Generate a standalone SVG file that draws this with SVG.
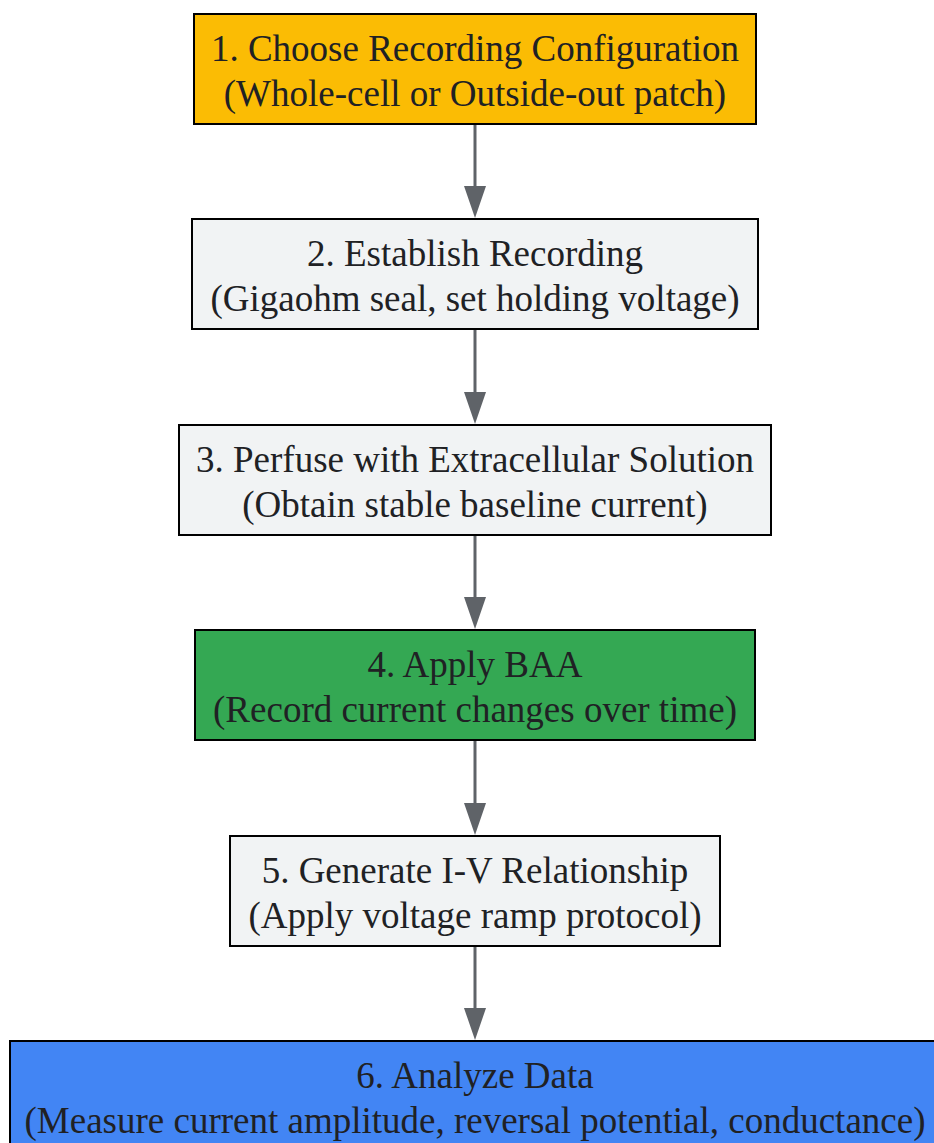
<svg xmlns="http://www.w3.org/2000/svg" width="934" height="1143" viewBox="0 0 934 1143">
<defs>
<style>
.box{stroke:#000;stroke-width:2}
.t{font-family:"Liberation Serif",serif;font-size:37px;fill:#202124;text-anchor:middle}
.e{stroke:#5F6368;stroke-width:3;fill:none}
.h{fill:#5F6368}
</style>
</defs>
<rect width="934" height="1143" fill="#fff"/>
<g id="edges">
<line class="e" x1="475" y1="124" x2="475" y2="186"/><path class="h" d="M464,186 L486,186 L475,218 Z"/>
<line class="e" x1="475" y1="329" x2="475" y2="392"/><path class="h" d="M464,392 L486,392 L475,424 Z"/>
<line class="e" x1="475" y1="535" x2="475" y2="597"/><path class="h" d="M464,597 L486,597 L475,629 Z"/>
<line class="e" x1="475" y1="740" x2="475" y2="803"/><path class="h" d="M464,803 L486,803 L475,835 Z"/>
<line class="e" x1="475" y1="946" x2="475" y2="1008"/><path class="h" d="M464,1008 L486,1008 L475,1040 Z"/>
</g>
<g id="n1"><rect class="box" x="194" y="14" width="562" height="110" fill="#FBBC04"/>
<text class="t" x="475" y="61">1. Choose Recording Configuration</text><text class="t" x="475" y="106">(Whole-cell or Outside-out patch)</text></g>
<g id="n2"><rect class="box" x="192" y="219" width="566" height="110" fill="#F1F3F4"/>
<text class="t" x="475" y="266">2. Establish Recording</text><text class="t" x="475" y="311">(Gigaohm seal, set holding voltage)</text></g>
<g id="n3"><rect class="box" x="179" y="425" width="592" height="110" fill="#F1F3F4"/>
<text class="t" x="475" y="472">3. Perfuse with Extracellular Solution</text><text class="t" x="475" y="517">(Obtain stable baseline current)</text></g>
<g id="n4"><rect class="box" x="195" y="630" width="560" height="110" fill="#34A853"/>
<text class="t" x="475" y="677">4. Apply BAA</text><text class="t" x="475" y="722">(Record current changes over time)</text></g>
<g id="n5"><rect class="box" x="230" y="836" width="490" height="110" fill="#F1F3F4"/>
<text class="t" x="475" y="883">5. Generate I-V Relationship</text><text class="t" x="475" y="928">(Apply voltage ramp protocol)</text></g>
<g id="n6"><rect class="box" x="10" y="1041" width="940" height="110" fill="#4285F4"/>
<text class="t" x="475" y="1088">6. Analyze Data</text><text class="t" x="475" y="1133">(Measure current amplitude, reversal potential, conductance)</text></g>
</svg>
